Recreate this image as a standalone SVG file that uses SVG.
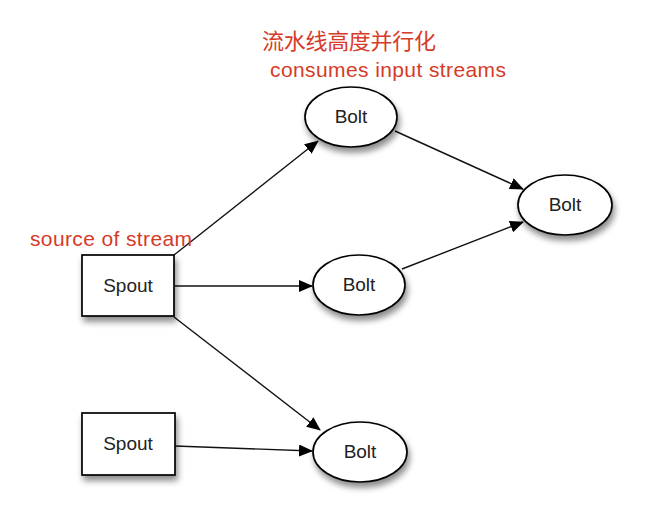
<svg xmlns="http://www.w3.org/2000/svg" width="672" height="520" viewBox="0 0 672 520">
<style>
.node{fill:#fff;stroke:#000;stroke-width:1.7;filter:url(#sh)}
.lbl{font-family:"Liberation Sans",Arial,sans-serif;font-size:19px;fill:#222;text-anchor:middle}
.note{font-family:"Liberation Sans","Noto Sans CJK SC",sans-serif;font-size:21px;fill:#d63b28}
.cjk{font-family:"Noto Sans CJK SC",sans-serif;font-size:22px;fill:#d63b28}
.edge{stroke:#111;stroke-width:1.4;fill:none;marker-end:url(#ah)}
</style>
<defs>
<filter id="sh" x="-30%" y="-30%" width="160%" height="170%">
<feDropShadow dx="2" dy="5" stdDeviation="3" flood-color="#000" flood-opacity="0.45"/>
</filter>
<marker id="ah" markerWidth="14" markerHeight="12" refX="13" refY="6" orient="auto" markerUnits="userSpaceOnUse">
<path d="M0,0 L14,6 L0,12 Z" fill="#000"/>
</marker>
</defs>
<rect width="672" height="520" fill="#fff"/>
<g id="connectors">
<line class="edge" x1="174" y1="255" x2="318" y2="141"/>
<line class="edge" x1="395" y1="131" x2="523" y2="189"/>
<line class="edge" x1="402" y1="269" x2="523" y2="222"/>
<line class="edge" x1="175" y1="286" x2="312" y2="286"/>
<line class="edge" x1="174" y1="317" x2="320" y2="430"/>
<line class="edge" x1="175" y1="446" x2="312" y2="451"/>
</g>
<g id="spout1"><rect class="node" x="82" y="255" width="92" height="61"/><text class="lbl" x="128" y="292">Spout</text></g>
<g id="spout2"><rect class="node" x="82" y="413" width="93" height="62"/><text class="lbl" x="128" y="450">Spout</text></g>
<g id="bolt-top"><ellipse class="node" cx="351" cy="117" rx="46" ry="30"/><text class="lbl" x="351" y="123">Bolt</text></g>
<g id="bolt-mid"><ellipse class="node" cx="359" cy="285" rx="46" ry="30"/><text class="lbl" x="359" y="291">Bolt</text></g>
<g id="bolt-right"><ellipse class="node" cx="565" cy="205" rx="47" ry="30"/><text class="lbl" x="565" y="211">Bolt</text></g>
<g id="bolt-bottom"><ellipse class="node" cx="360" cy="452" rx="47" ry="30"/><text class="lbl" x="360" y="458">Bolt</text></g>
<g id="notes">
<text class="cjk" x="262" y="49" textLength="174">流水线高度并行化</text>
<text class="note" x="270" y="77" textLength="236">consumes input streams</text>
<text class="note" x="30" y="246" textLength="162">source of stream</text>
</g>
</svg>
